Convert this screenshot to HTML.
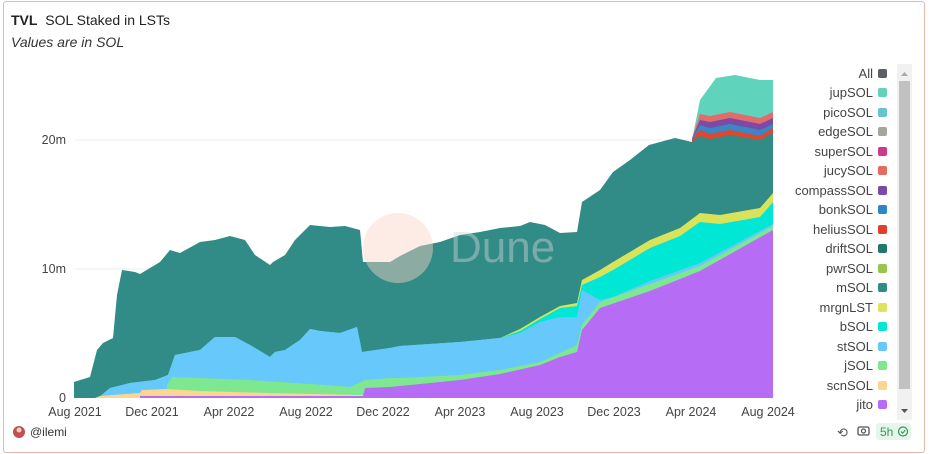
<!DOCTYPE html>
<html><head><meta charset="utf-8"><style>
body{margin:0;background:#fff;font-family:"Liberation Sans",sans-serif;}
#w{position:relative;width:931px;height:454px;overflow:hidden}
.t{position:absolute;white-space:nowrap}
</style></head><body><div id="w">
<div style="position:absolute;left:3px;top:1px;width:920px;height:450px;border:1px solid #e6b8a6;border-radius:3px"></div>
<div class="t" style="left:11px;top:12px;font-size:14px;color:#222"><b>TVL</b>&nbsp;&nbsp;SOL Staked in LSTs</div>
<div class="t" style="left:11px;top:34px;font-size:14px;color:#333;font-style:italic">Values are in SOL</div>
<svg width="931" height="454" style="position:absolute;left:0;top:0">
<line x1="75" y1="140" x2="773" y2="140" stroke="#eee"/>
<line x1="75" y1="269" x2="773" y2="269" stroke="#eee"/>
<g font-size="12.5" fill="#444" text-anchor="end">
<text x="66" y="144">20m</text><text x="66" y="273">10m</text><text x="66" y="402">0</text></g>
<g font-size="12.5" fill="#444" text-anchor="middle">
<text x="75" y="416">Aug 2021</text><text x="152" y="416">Dec 2021</text><text x="229" y="416">Apr 2022</text><text x="306" y="416">Aug 2022</text><text x="383" y="416">Dec 2022</text><text x="460" y="416">Apr 2023</text><text x="537" y="416">Aug 2023</text><text x="614" y="416">Dec 2023</text><text x="691" y="416">Apr 2024</text><text x="768" y="416">Aug 2024</text></g>
<g>
<polygon fill="#5fd3bb" points="692,398 692,140 700,100 716,78 735,75 760,80 773,80 773,398"/>
<polygon fill="#e46b6b" points="692,398 692,138 700,114 710,116 730,112 760,118 773,112 773,398"/>
<polygon fill="#7b4aa5" points="692,398 692,139 700,120 710,122 730,118 760,124 773,118 773,398"/>
<polygon fill="#3b86c4" points="692,398 692,139 700,125 710,128 730,124 760,130 773,124 773,398"/>
<polygon fill="#e0472d" points="692,398 692,140 700,130 710,134 730,130 760,136 773,128 773,398"/>
<polygon fill="#318b86" points="74,398 74,382 90,377 97,350 103,343 113,338 117,295 122,270 135,272 140,274 160,262 170,250 180,253 200,242 215,240 230,236 245,240 255,255 270,265 273,262 285,255 295,240 310,225 330,227 345,226 360,230 363,262 390,262 400,256 420,246 440,242 460,235 480,232 500,228 520,226 530,222 545,225 560,233 577,232 582,202 600,190 613,172 630,160 649,145 675,138 692,142 700,136 710,139 730,135 760,140 773,133 773,398"/>
<polygon fill="#d9e35a" points="98,398 110,388 130,383 155,380 168,375 175,355 200,350 215,337 235,337 250,345 270,357 275,352 285,350 300,340 310,329 320,331 340,333 357,327 362,352 390,348 400,346 460,342 500,338 520,329 540,317 560,306 577,303 582,280 600,270 613,262 650,240 680,228 700,213 720,215 760,208 773,193 773,398"/>
<polygon fill="#00e8d5" points="98,398 110,388 130,383 155,380 168,375 175,355 200,350 215,337 235,337 250,345 270,357 275,352 285,350 300,340 310,329 320,331 340,333 357,327 362,352 390,348 400,346 460,342 500,338 520,331 540,319 560,308 577,306 582,285 600,277 613,270 650,248 680,236 700,222 720,224 760,217 773,202 773,398"/>
<polygon fill="#66c8fb" points="98,398 110,388 130,383 155,380 168,375 175,355 200,350 215,337 235,337 250,345 270,357 275,352 285,350 300,340 310,329 320,331 340,333 357,327 362,352 390,348 400,346 460,342 500,338 520,333 540,322 560,317 577,317 582,290 600,300 613,297 650,281 700,263 773,224 773,398"/>
<polygon fill="#7de88f" points="98,398 100,396 140,393 167,389 167,385 172,377 200,378 250,380 325,385 350,387 365,380 390,378 400,378 460,375 500,370 540,362 560,353 577,345 582,325 600,302 650,284 700,266 773,226 773,398"/>
<polygon fill="#fcd58f" points="95,398 100,396 140,393 142,390 167,389 200,391 270,393 360,395 390,395 773,398"/>
<polygon fill="#b66cf5" points="140,398 140,396 363,396 365,388 390,387 400,386 460,380 500,374 540,365 560,357 577,352 582,330 600,308 650,291 700,271 773,230 773,398"/>
</g>
<g opacity="0.45">
<circle cx="398" cy="248" r="35" fill="#fbd5c8"/>
<text x="450" y="262" font-size="44" fill="#cfd3d6">Dune</text>
</g>
<g font-size="13" fill="#444" text-anchor="end">
<text x="873" y="78">All</text><text x="873" y="97">jupSOL</text><text x="873" y="117">picoSOL</text><text x="873" y="136">edgeSOL</text><text x="873" y="156">superSOL</text><text x="873" y="175">jucySOL</text><text x="873" y="195">compassSOL</text><text x="873" y="214">bonkSOL</text><text x="873" y="234">heliusSOL</text><text x="873" y="253">driftSOL</text><text x="873" y="273">pwrSOL</text><text x="873" y="292">mSOL</text><text x="873" y="312">mrgnLST</text><text x="873" y="331">bSOL</text><text x="873" y="351">stSOL</text><text x="873" y="370">jSOL</text><text x="873" y="390">scnSOL</text><text x="873" y="409">jito</text></g>
<g>
<rect x="878" y="69" width="9" height="9" rx="2" fill="#5c5f66"/>
<rect x="878" y="88" width="9" height="9" rx="2" fill="#5fd3bb"/>
<rect x="878" y="108" width="9" height="9" rx="2" fill="#64c4cf"/>
<rect x="878" y="127" width="9" height="9" rx="2" fill="#a3a69a"/>
<rect x="878" y="147" width="9" height="9" rx="2" fill="#cc3b8a"/>
<rect x="878" y="166" width="9" height="9" rx="2" fill="#e46b5f"/>
<rect x="878" y="186" width="9" height="9" rx="2" fill="#7b4aa5"/>
<rect x="878" y="205" width="9" height="9" rx="2" fill="#2e86c4"/>
<rect x="878" y="225" width="9" height="9" rx="2" fill="#e0402a"/>
<rect x="878" y="244" width="9" height="9" rx="2" fill="#20776b"/>
<rect x="878" y="264" width="9" height="9" rx="2" fill="#98c64a"/>
<rect x="878" y="283" width="9" height="9" rx="2" fill="#318b86"/>
<rect x="878" y="303" width="9" height="9" rx="2" fill="#dde35a"/>
<rect x="878" y="322" width="9" height="9" rx="2" fill="#00e8d5"/>
<rect x="878" y="342" width="9" height="9" rx="2" fill="#66c8fb"/>
<rect x="878" y="361" width="9" height="9" rx="2" fill="#7de88f"/>
<rect x="878" y="381" width="9" height="9" rx="2" fill="#fcd58f"/>
<rect x="878" y="400" width="9" height="9" rx="2" fill="#b66cf5"/>
</g>
<rect x="897" y="64" width="15" height="356" fill="#f1f1f1"/>
<rect x="899" y="81" width="11" height="308" fill="#c1c1c1"/>
<polygon points="901,76 908,76 904.5,72" fill="#aaa"/>
<polygon points="901,409 908,409 904.5,413" fill="#555"/>
<circle cx="19" cy="432" r="6" fill="#c25050"/>
<circle cx="19" cy="430" r="2.5" fill="#f0d0c0"/>
<text x="30" y="436" font-size="12" fill="#333">@ilemi</text>
<text x="837" y="437" font-size="13" fill="#555">⟲</text>
<rect x="858" y="427" width="11" height="8" rx="1.5" fill="none" stroke="#555" stroke-width="1.3"/>
<circle cx="863.5" cy="431" r="2" fill="none" stroke="#555" stroke-width="1.2"/>
<rect x="876" y="423" width="35" height="17" rx="3" fill="#e6f5ea"/>
<text x="880" y="436" font-size="12" fill="#2f9a55">5h</text>
<circle cx="903" cy="431.5" r="4.5" fill="none" stroke="#2f9a55" stroke-width="1.2"/>
<polyline points="901,431.5 902.7,433.2 905.3,430" fill="none" stroke="#2f9a55" stroke-width="1.1"/>
</svg>
</div></body></html>
